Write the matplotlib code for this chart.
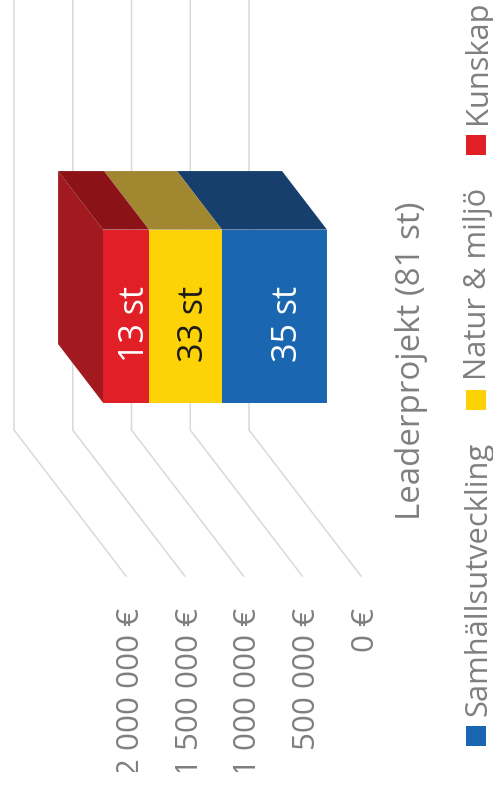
import matplotlib
matplotlib.use('Agg')
import matplotlib.pyplot as plt
from matplotlib.patches import Polygon, Rectangle

plt.rcParams['font.family'] = ['Open Sans', 'DejaVu Sans']

# data
series_names = ['Samhällsutveckling', 'Natur & miljö', 'Kunskap']
series_values = [894000, 621000, 391000]
bar_labels = ['35 st', '33 st', '13 st']
category = 'Leaderprojekt (81 st)'
tick_values = [0, 500000, 1000000, 1500000, 2000000]
tick_labels = ['0 €', '500 000 €', '1 000 000 €', '1 500 000 €', '2 000 000 €']

front_colors = ['#1B66B0', '#FDD308', '#E01F27']
top_colors = ['#163F6D', '#A28731', '#8B1318']
side_color = '#A21A20'
label_colors = ['white', '#1a1a1a', 'white']
label_shift = [14, 8.5, 9]
grey = '#7F7F7F'
grid_color = '#D9D9D9'

W, H = 493, 791
fig = plt.figure(figsize=(W / 100, H / 100), dpi=100)
ax = fig.add_axes([0, 0, 1, 1])
ax.set_xlim(0, W)
ax.set_ylim(H, 0)
ax.axis('off')

PX_PER_EURO = 58.75 / 500000
X0, FLOOR_Y = 249, 430
DX, DY = 112, 146
BAR_TOP, BAR_BOTTOM = 128, 301
D_BACK, D_FRONT = 0.295, 0.696


def project(value, pos, depth):
    # chart is turned 90 degrees, value axis runs right to left
    return (X0 - value * PX_PER_EURO + depth * DX, pos + depth * DY)


# gridlines, wall and floor
for v in tick_values:
    back = project(v, 0, 0)
    corner = project(v, FLOOR_Y, 0)
    end = project(v, FLOOR_Y, 1)
    ax.plot([back[0], corner[0], end[0]], [back[1], corner[1], end[1]],
            color=grid_color, lw=1.1, solid_joinstyle='miter')

# tick labels, the long ones are cut off at the bottom in the original
clip = Rectangle((0, 0), W, 772, transform=ax.transData)
for v, t in zip(tick_values, tick_labels):
    x, y = project(v, FLOOR_Y, 1)
    txt = ax.text(x + 5, 608, t, rotation=90, ha='center', va='top',
                  fontsize=22.5, color=grey, clip_on=True)
    txt.set_clip_path(clip)

# stacked bar
total = sum(series_values)
side = [project(total, BAR_TOP, D_BACK), project(total, BAR_TOP, D_FRONT),
        project(total, BAR_BOTTOM, D_FRONT), project(total, BAR_BOTTOM, D_BACK)]
ax.add_patch(Polygon(side, closed=True, fc=side_color, ec='none', zorder=3))

start = 0
for val, fc, tc, lab, lc, sh in zip(series_values, front_colors, top_colors, bar_labels, label_colors, label_shift):
    end = start + val
    top = [project(start, BAR_TOP, D_BACK), project(end, BAR_TOP, D_BACK),
           project(end, BAR_TOP, D_FRONT), project(start, BAR_TOP, D_FRONT)]
    ax.add_patch(Polygon(top, closed=True, fc=tc, ec='none', zorder=3))
    front = [project(start, BAR_TOP, D_FRONT), project(end, BAR_TOP, D_FRONT),
             project(end, BAR_BOTTOM, D_FRONT), project(start, BAR_BOTTOM, D_FRONT)]
    ax.add_patch(Polygon(front, closed=True, fc=fc, ec='none', zorder=4))
    cx = project((start + end) / 2, BAR_TOP, D_FRONT)[0]
    ax.text(cx + sh, 324, lab, rotation=90, ha='center', va='center',
            fontsize=24.5, color=lc, zorder=5)
    start = end

# category label
ax.text(412, 361, category, rotation=90, ha='center', va='center',
        fontsize=23.8, color=grey)

# legend
legend_y = [746, 410, 155]
legend_text_y = [716, 380, 124]
for name, c, y, ty in zip(series_names, front_colors, legend_y, legend_text_y):
    ax.add_patch(Rectangle((466, y - 20), 20, 20, fc=c, ec='none'))
    ax.text(478, ty, name, rotation=90, ha='center', va='bottom',
            fontsize=22.2, color=grey)

fig.savefig('out.png', dpi=100)
